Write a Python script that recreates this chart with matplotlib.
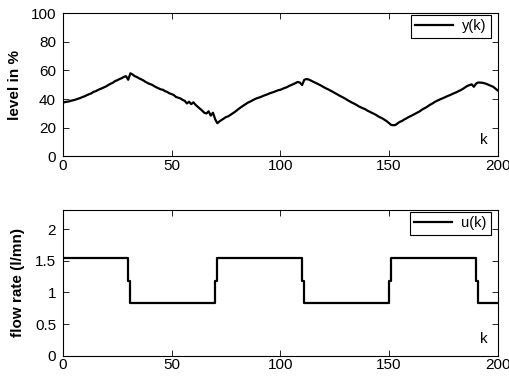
import numpy as np
import matplotlib
matplotlib.use("Agg")
import matplotlib.pyplot as plt

plt.rcParams['font.family'] = ['Liberation Sans', 'DejaVu Sans']

# tank level y(k) in % for k = 0..200
level = [
    37.5, 38.0, 38.2, 38.5, 39.0, 39.3, 39.8, 40.3, 40.8, 41.5,
    42.0, 42.8, 43.4, 44.0, 45.0, 45.5, 46.3, 47.0, 47.6, 48.3,
    49.0, 50.0, 50.8, 51.5, 52.6, 53.2, 54.0, 54.6, 55.5, 56.0,
    53.5, 58.0, 57.2, 56.0, 55.4, 54.5, 53.8, 53.0, 52.0, 51.2,
    50.5, 50.0, 49.0, 48.2, 47.5, 46.8, 46.5, 45.5, 45.0, 44.0,
    43.5, 42.8, 41.5, 41.0, 40.5, 39.5, 38.8, 37.0, 38.2, 36.5,
    37.8, 36.0, 34.7, 33.5, 32.0, 30.5, 30.0, 31.5, 28.5, 30.5,
    26.0, 23.2, 24.5, 25.5, 26.5, 27.5, 28.0, 29.0, 30.0, 31.0,
    32.2, 33.4, 34.5, 35.5, 36.5, 37.5, 38.2, 39.0, 39.8, 40.5,
    41.0, 41.5, 42.2, 42.8, 43.3, 44.0, 44.5, 45.0, 45.6, 46.2,
    46.5, 47.2, 47.8, 48.3, 49.2, 49.8, 50.5, 51.2, 52.0, 51.5,
    49.8, 53.5, 54.0, 53.7, 53.0, 52.2, 51.5, 50.8, 50.0, 49.2,
    48.3, 47.5, 46.8, 46.0, 45.2, 44.3, 43.5, 42.6, 41.8, 41.0,
    40.2, 39.2, 38.4, 37.5, 36.8, 36.0, 35.0, 34.3, 33.6, 33.0,
    32.0, 31.3, 30.5, 29.8, 29.0, 28.0, 27.2, 26.5, 25.5, 24.5,
    23.2, 22.0, 21.8, 22.0, 23.2, 24.2, 24.8, 25.8, 26.6, 27.5,
    28.2, 29.0, 29.8, 30.6, 31.4, 32.5, 33.4, 34.2, 35.2, 36.2,
    37.0, 38.0, 38.8, 39.5, 40.2, 40.8, 41.5, 42.2, 42.8, 43.5,
    44.2, 44.8, 45.6, 46.3, 47.2, 48.2, 49.2, 49.8, 50.3, 48.6,
    50.8, 51.6, 51.5, 51.4, 51.0, 50.5, 49.8, 49.2, 48.5, 47.2,
    46.0,
]
k = np.arange(len(level))

# flow rate u(k) in l/mn: switching instants and held values
u_k = [0, 30, 31, 70, 71, 110, 111, 150, 151, 190, 191, 200]
u_val = [1.55, 1.18, 0.83, 1.18, 1.55, 1.18, 0.83, 1.18, 1.55, 1.18, 0.83, 0.83]

fig = plt.figure(figsize=(5.1, 3.78), dpi=100)
ax1 = fig.add_axes([0.1235, 0.586, 0.8525, 0.3794])
ax2 = fig.add_axes([0.1235, 0.059, 0.8525, 0.3854])


def matlab_style(ax):
    ax.tick_params(direction='in', top=True, right=True, length=4,
                   width=0.6, labelsize=11, pad=2)
    ax.tick_params(axis='y', pad=5)
    for s in ax.spines.values():
        s.set_linewidth(0.8)
    ax.set_xlim(0, 200)
    ax.set_xticks([0, 50, 100, 150, 200])


def add_legend(ax):
    leg = ax.legend(loc='upper right', bbox_to_anchor=(0.984, 0.986),
                    fontsize=10.5, fancybox=False, edgecolor='black',
                    framealpha=1, handlelength=2.6, handletextpad=0.6,
                    borderpad=0.3, borderaxespad=0)
    leg.get_frame().set_linewidth(0.8)


ax1.plot(k, level, color='black', lw=1.6, label='y(k)')
matlab_style(ax1)
ax1.set_ylim(0, 100)
ax1.set_yticks([0, 20, 40, 60, 80, 100])
ax1.set_ylabel('level in %', fontsize=11, fontweight='bold')
ax1.yaxis.set_label_coords(-0.095, 0.5)
ax1.text(192, 9, 'k', fontsize=11)
add_legend(ax1)

ax2.step(u_k, u_val, where='post', color='black', lw=1.6, label='u(k)')
matlab_style(ax2)
ax2.set_ylim(0, 2.3)
ax2.set_yticks([0, 0.5, 1, 1.5, 2])
ax2.set_yticklabels(['0', '0.5', '1', '1.5', '2'])
ax2.set_ylabel('flow rate (l/mn)', fontsize=11, fontweight='bold')
ax2.yaxis.set_label_coords(-0.088, 0.5)
ax2.text(192, 0.2, 'k', fontsize=11)
add_legend(ax2)

fig.savefig('out.png', dpi=100)
